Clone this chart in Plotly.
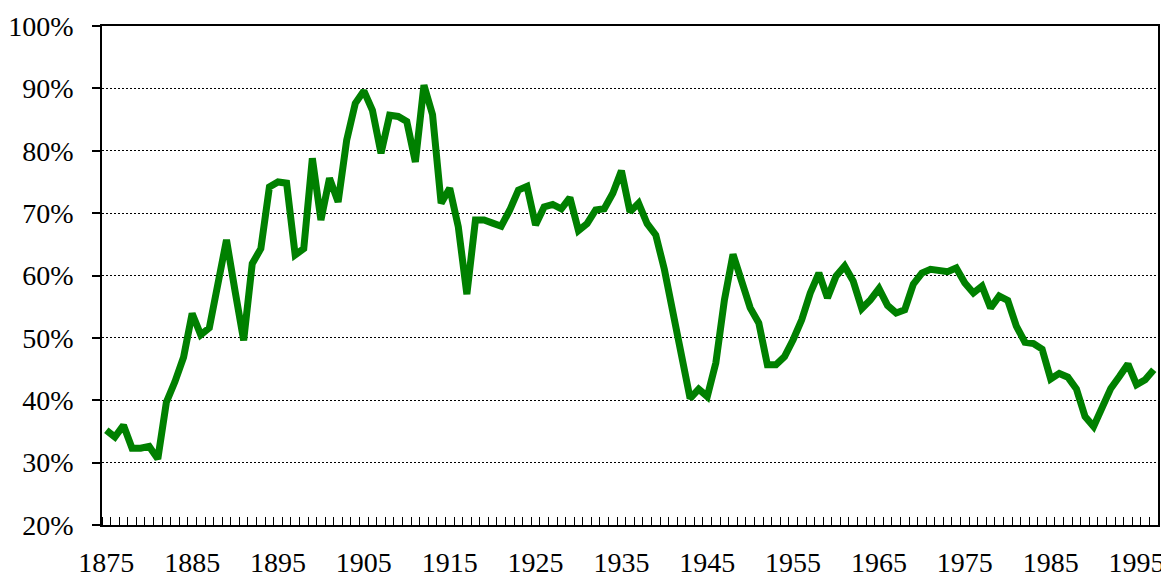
import plotly.graph_objects as go

years = list(range(1875, 1998))
values = [
    35.2, 34.1, 36.0, 32.3, 32.3, 32.6, 30.6, 39.7, 43.0, 46.9,   # 1875-1884
    53.9, 50.5, 51.6, 58.3, 65.7, 57.5, 49.6, 61.9, 64.3, 74.2,   # 1885-1894
    75.0, 74.8, 63.3, 64.3, 78.8, 68.9, 75.6, 71.8, 81.7, 87.6,   # 1895-1904
    89.6, 86.5, 79.6, 85.7, 85.5, 84.7, 78.2, 90.5, 85.8, 71.6,   # 1905-1914
    74.0, 67.8, 57.0, 68.9, 68.9, 68.4, 67.9, 70.5, 73.7, 74.3,   # 1915-1924
    68.1, 71.0, 71.4, 70.7, 72.5, 67.2, 68.3, 70.5, 70.7, 73.2,   # 1925-1934
    76.8, 70.2, 71.6, 68.3, 66.5, 61.0, 54.0, 47.2, 40.3, 41.8,   # 1935-1944
    40.6, 46.0, 56.1, 63.4, 58.8, 54.8, 52.4, 45.7, 45.7, 47.0,   # 1945-1954
    49.7, 52.9, 57.2, 60.4, 56.4, 59.9, 61.5, 59.1, 54.7, 56.1,   # 1955-1964
    57.9, 55.2, 54.0, 54.5, 58.6, 60.4, 61.0, 60.7, 60.6, 61.2,   # 1965-1974
    58.8, 57.2, 58.3, 54.8, 56.7, 56.0, 51.9, 49.3, 49.1, 48.2,   # 1975-1984
    43.4, 44.3, 43.7, 41.8, 37.4, 35.8, 39.0, 41.9, 43.8, 45.8,   # 1985-1994
    42.5, 43.3, 44.9,                                             # 1995-1997
]
label_years = list(range(1875, 1996, 10))
y_ticks = list(range(20, 101, 10))

fig = go.Figure()
fig.add_trace(go.Scatter(
    x=years, y=values, mode="lines",
    line=dict(color="#008000", width=7),
    hoverinfo="skip", showlegend=False,
))

boundaries = [y - 0.5 for y in years] + [years[-1] + 0.5]

fig.update_layout(
    width=1161, height=572,
    margin=dict(l=94, r=11, t=18, b=55),
    paper_bgcolor="white", plot_bgcolor="white",
    font=dict(family="Liberation Serif, Times New Roman, serif", size=27, color="black"),
    xaxis=dict(
        range=[years[0] - 0.5, years[-1] + 0.5],
        tickmode="array", tickvals=label_years, ticktext=[str(v) for v in label_years],
        ticks="", showgrid=False, zeroline=False, automargin=False,
        showline=True, linecolor="black", linewidth=1.5, mirror=True,
        ticklabelstandoff=12,
        tickfont=dict(size=28),
        minor=dict(tickmode="array", tickvals=boundaries, ticks="inside",
                   ticklen=8, tickwidth=1, tickcolor="black", showgrid=False),
    ),
    yaxis=dict(
        range=[20, 100], tickmode="array", tickvals=y_ticks,
        ticktext=[f"{v}%" for v in y_ticks],
        ticks="outside", ticklen=8, tickwidth=1.5, tickcolor="black",
        tickfont=dict(size=28),
        showgrid=True, gridcolor="black", gridwidth=1.2, griddash="2px,2px",
        zeroline=False, automargin=False,
        showline=True, linecolor="black", linewidth=1.5, mirror=True,
        ticklabelstandoff=13,
    ),
)

fig.write_html("out.html")
